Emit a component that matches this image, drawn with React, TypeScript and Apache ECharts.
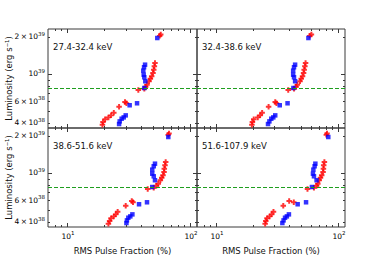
import React, { useEffect, useRef } from 'react';
import * as echarts from 'echarts';

const PANEL_LABELS = ['27.4-32.4 keV', '32.4-38.6 keV', '38.6-51.6 keV', '51.6-107.9 keV'];

// Luminosity (erg/s) for the red (+) and blue (square) samples, shared by all panels
const RED_LUM = [2.09e39, 2.04e39, 1.23e39, 1.155e39, 1.084e39, 1.02e39, 9.58e38, 9.16e38, 8.73e38, 8.19e38, 7.89e38, 7.59e38, 7.41e38, 5.92e38, 5.78e38, 5.42e38, 4.84e38, 4.61e38, 4.44e38, 4.28e38, 4.07e38, 3.87e38];
const BLUE_LUM = [1.96e39, 1.19e39, 1.134e39, 1.064e39, 9.87e38, 9.4e38, 8.73e38, 7.69e38, 5.78e38, 5.57e38, 4.61e38, 4.44e38, 4.33e38, 4.12e38, 3.92e38];

// RMS pulse fraction (%) per energy band
const RED_PF_1 = [57.8, 56.7, 51.9, 51.3, 50.7, 50.0, 48.8, 47.6, 46.4, 44.7, 43.6, 42.5, 38.0, 29.6, 30.4, 26.5, 24.0, 22.8, 21.7, 20.4, 19.6, 19.4];
const RED_PF_2 = [60.5, 58.6, 54.2, 53.5, 52.8, 52.2, 51.2, 49.9, 48.8, 46.4, 45.3, 43.6, 39.1, 30.6, 31.3, 27.0, 23.9, 23.0, 22.0, 20.4, 19.9, 19.7];
const RED_PF_3 = [67.5, 66.5, 63.4, 62.6, 61.8, 61.5, 60.3, 58.9, 57.4, 55.2, 53.2, 50.7, 45.3, 33.6, 34.4, 30.0, 25.8, 24.9, 24.0, 22.8, 22.2, 21.7];
const RED_PF_4 = [81.2, 80.2, 77.3, 76.3, 75.9, 75.4, 73.5, 71.8, 70.1, 68.3, 66.7, 63.5, 56.2, 39.8, 43.4, 35.6, 29.6, 28.6, 27.5, 26.2, 25.6, 25.3];

const BLUE_PF_1 = [54.2, 43.1, 42.3, 41.7, 42.0, 42.5, 43.3, 42.5, 37.1, 32.3, 30.0, 28.9, 27.8, 26.8, 26.5];
const BLUE_PF_2 = [57.2, 44.5, 43.6, 42.9, 42.9, 43.6, 44.5, 43.1, 38.6, 33.3, 30.6, 29.5, 28.4, 27.4, 26.7];
const BLUE_PF_3 = [66.6, 51.9, 50.7, 49.3, 49.3, 50.7, 51.9, 49.3, 44.7, 38.5, 34.0, 32.7, 31.5, 30.7, 30.4];
const BLUE_PF_4 = [83.2, 65.2, 64.3, 62.8, 62.3, 63.5, 66.7, 61.1, 54.7, 46.7, 39.6, 38.1, 36.8, 35.8, 35.0];

const THRESHOLD = 7.7e38;

const X_MIN = 7;
const X_MAX = 114;
const Y_MIN = 3.64e38;
const Y_MAX = 2.32e39;

const X_MAJOR_TICKS = [10, 100];
const X_MINOR_TICKS = [8, 9, 20, 30, 40, 50, 60, 70, 80, 90];
const Y_MAJOR_TICKS = [1e39];
const Y_MINOR_TICKS = [4e38, 5e38, 6e38, 7e38, 8e38, 9e38, 2e39];

// tick labels: [mantissa prefix, base, exponent]
const X_LABEL_VALUES = [10, 100];
const X_LABELS = [['', '10', '1'], ['', '10', '2']];
const Y_LABEL_VALUES = [2e39, 1e39, 6e38, 4e38];
const Y_LABELS = [['2\u2009×\u2009', '10', '39'], ['', '10', '39'], ['6\u2009×\u2009', '10', '38'], ['4\u2009×\u2009', '10', '38']];

const RED_PF = [RED_PF_1, RED_PF_2, RED_PF_3, RED_PF_4];
const BLUE_PF = [BLUE_PF_1, BLUE_PF_2, BLUE_PF_3, BLUE_PF_4];

const FONT = 'DejaVu Sans';
const AXIS_COLOR = '#3a3a3a';
const TEXT_COLOR = '#111';
const PLUS = 'path://M1.6,0H3.4V1.6H5V3.4H3.4V5H1.6V3.4H0V1.6H1.6Z';

const GRIDS = [
  { left: 48, top: 29, width: 149, height: 99 },
  { left: 197, top: 29, width: 148, height: 99 },
  { left: 48, top: 128, width: 149, height: 99 },
  { left: 197, top: 128, width: 148, height: 99 },
];

const RICH = {
  b: { fontSize: 7.5, fontFamily: FONT, color: TEXT_COLOR, lineHeight: 10, verticalAlign: 'bottom' },
  s: { fontSize: 5.5, fontFamily: FONT, color: TEXT_COLOR, lineHeight: 10, verticalAlign: 'top' },
};

function tickSeries(gi: number, axis: 'x' | 'y', values: number[], len: number) {
  return {
    type: 'custom',
    xAxisIndex: gi,
    yAxisIndex: gi,
    silent: true,
    z: 6,
    data: values.map((v) => (axis === 'x' ? [v, Y_MIN] : [X_MIN, v])),
    renderItem: (params: any, api: any) => {
      const cs = params.coordSys;
      const p = api.coord([api.value(0), api.value(1)]);
      const st = { stroke: AXIS_COLOR, lineWidth: 1 };
      if (axis === 'x') {
        const x = Math.round(p[0]) + 0.5;
        return {
          type: 'group',
          children: [
            { type: 'line', shape: { x1: x, y1: cs.y + cs.height, x2: x, y2: cs.y + cs.height - len }, style: st },
            { type: 'line', shape: { x1: x, y1: cs.y, x2: x, y2: cs.y + len }, style: st },
          ],
        };
      }
      const y = Math.round(p[1]) + 0.5;
      return {
        type: 'group',
        children: [
          { type: 'line', shape: { x1: cs.x, y1: y, x2: cs.x + len, y2: y }, style: st },
          { type: 'line', shape: { x1: cs.x + cs.width, y1: y, x2: cs.x + cs.width - len, y2: y }, style: st },
        ],
      };
    },
  };
}

function labelSeries(gi: number, axis: 'x' | 'y', values: number[], labels: string[][]) {
  return {
    type: 'custom',
    xAxisIndex: gi,
    yAxisIndex: gi,
    silent: true,
    z: 6,
    data: values.map((v) => (axis === 'x' ? [v, Y_MIN] : [X_MIN, v])),
    renderItem: (params: any, api: any) => {
      const cs = params.coordSys;
      const p = api.coord([api.value(0), api.value(1)]);
      const [pre, base, exp] = labels[params.dataIndex];
      const text = (pre ? `{b|${pre}}` : '') + `{b|${base}}{s|${exp}}`;
      if (axis === 'x') {
        return {
          type: 'text',
          style: {
            text, rich: RICH, x: p[0] + 1, y: cs.y + cs.height + 3,
            align: 'center', verticalAlign: 'top',
          },
        };
      }
      return {
        type: 'text',
        style: {
          text, rich: RICH, x: cs.x - 3, y: p[1] - 1,
          align: 'right', verticalAlign: 'middle',
        },
      };
    },
  };
}

export default function App() {
  const ref = useRef<HTMLDivElement>(null);
  useEffect(() => {
    if (!ref.current) return;
    const chart = echarts.init(ref.current, undefined, { renderer: 'svg' });
    const xAxis: any[] = [];
    const yAxis: any[] = [];
    const series: any[] = [];
    const graphic: any[] = [];
    GRIDS.forEach((g, i) => {
      const isBottom = i >= 2;
      const isLeft = i % 2 === 0;
      xAxis.push({
        type: 'log', gridIndex: i, min: X_MIN, max: X_MAX, logBase: 10,
        axisLine: { show: false }, axisTick: { show: false }, axisLabel: { show: false }, splitLine: { show: false },
        name: isBottom ? 'RMS Pulse Fraction (%)' : '',
        nameLocation: 'middle', nameGap: 19,
        nameTextStyle: { fontSize: 8.5, fontFamily: FONT, color: TEXT_COLOR },
      });
      yAxis.push({
        type: 'log', gridIndex: i, min: Y_MIN, max: Y_MAX, logBase: 10,
        axisLine: { show: false }, axisTick: { show: false }, axisLabel: { show: false }, splitLine: { show: false },
        name: isLeft ? 'Luminosity (erg s⁻¹)' : '',
        nameLocation: 'middle', nameGap: 35, nameRotate: 90,
        nameTextStyle: { fontSize: 8.5, fontFamily: FONT, color: TEXT_COLOR },
      });
      series.push({
        type: 'scatter', xAxisIndex: i, yAxisIndex: i,
        symbol: PLUS, symbolSize: 5.5,
        itemStyle: { color: '#ff0000' },
        data: RED_PF[i].map((p, k) => [p, RED_LUM[k]]),
        z: 3,
        markLine: {
          silent: true, symbol: 'none', label: { show: false },
          lineStyle: { color: '#1f9e1f', width: 1, type: [4, 2] },
          data: [{ yAxis: THRESHOLD }],
        },
      });
      series.push({
        type: 'scatter', xAxisIndex: i, yAxisIndex: i,
        symbol: 'rect', symbolSize: 4.5,
        itemStyle: { color: '#0000ff' },
        data: BLUE_PF[i].map((p, k) => [p, BLUE_LUM[k]]),
        z: 3,
      });
      series.push(tickSeries(i, 'x', X_MAJOR_TICKS, 4));
      series.push(tickSeries(i, 'x', X_MINOR_TICKS, 2));
      series.push(tickSeries(i, 'y', Y_MAJOR_TICKS, 4));
      series.push(tickSeries(i, 'y', Y_MINOR_TICKS, 2));
      if (isBottom) series.push(labelSeries(i, 'x', X_LABEL_VALUES, X_LABELS));
      if (isLeft) series.push(labelSeries(i, 'y', Y_LABEL_VALUES, Y_LABELS));
      graphic.push({
        type: 'text', left: g.left + 5, top: g.top + 13,
        style: { text: PANEL_LABELS[i], fontSize: 8.5, fontFamily: FONT, fill: TEXT_COLOR },
      });
    });
    chart.setOption({
      animation: false,
      backgroundColor: '#ffffff',
      grid: GRIDS.map((g) => ({ ...g, show: true, borderColor: AXIS_COLOR, borderWidth: 1, backgroundColor: 'transparent' })),
      xAxis, yAxis, series, graphic,
    });
    return () => chart.dispose();
  }, []);
  return <div ref={ref} style={{ position: 'fixed', left: 0, top: 0, width: 384, height: 256, background: '#fff' }} />;
}
